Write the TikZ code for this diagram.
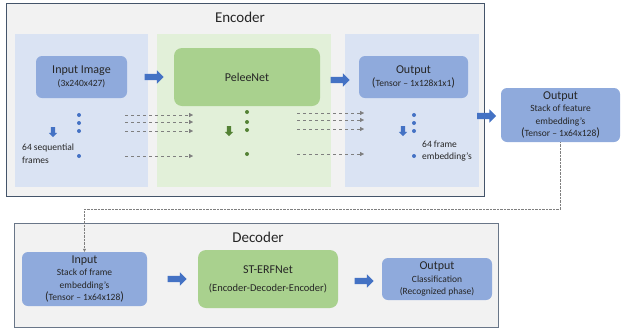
\documentclass[tikz,border=0pt]{standalone}
\usepackage{fontspec}
\setmainfont{Carlito}
\usetikzlibrary{shapes.arrows,arrows.meta}
\definecolor{framegray}{HTML}{F2F2F2}
\definecolor{frameline}{HTML}{44546A}
\definecolor{paneblue}{HTML}{DAE3F3}
\definecolor{panegreen}{HTML}{E2F0D9}
\definecolor{boxblue}{HTML}{8FAADC}
\definecolor{boxgreen}{HTML}{A9D18E}
\definecolor{arrowblue}{HTML}{4472C4}
\definecolor{arrowgreen}{HTML}{548235}
\definecolor{dashgray}{HTML}{7F7F7F}
\definecolor{textgray}{HTML}{262626}
\newcommand{\bigpar}[1]{{\fontsize{12}{12}\selectfont #1}}

\begin{document}
\begin{tikzpicture}[x=1pt,y=-1pt]
\tikzstyle{every node}+=[inner sep=0pt, text=textgray]
\tikzstyle{title}=[font=\fontsize{15}{18}\selectfont]
\tikzstyle{bluebox}=[fill=boxblue, rounded corners=6pt, align=center, font=\fontsize{9.5}{12.5}\selectfont]
\tikzstyle{greenbox}=[fill=boxgreen, rounded corners=8pt, align=center, font=\fontsize{12}{14}\selectfont]
\tikzstyle{fat}=[single arrow, fill=arrowblue, inner sep=3pt, minimum height=19pt, single arrow head extend=3.5pt]
\tikzstyle{down}=[single arrow, shape border rotate=270, inner sep=2pt, minimum height=10pt, single arrow head extend=2pt]
\tikzstyle{bdot}=[circle, fill=arrowblue, minimum size=4pt]
\tikzstyle{gdot}=[circle, fill=arrowgreen, minimum size=4pt]
\tikzstyle{flow}=[dashed, draw=dashgray, -{Triangle[length=4pt,width=4pt]}]
\tikzstyle{link}=[densely dotted, draw=dashgray, -{Triangle[length=3pt,width=3pt]}]
\tikzstyle{note}=[align=left, font=\fontsize{9.5}{12.5}\selectfont]
\useasboundingbox (0,0) rectangle (621,330);
% encoder frame
\filldraw [fill=framegray, draw=frameline, line width=0.8pt] (6,3) rectangle (484,196);
\fill [paneblue] (15,34) rectangle (148,187);
\fill [panegreen] (157,34) rectangle (331,187);
\fill [paneblue] (345,34) rectangle (479,187);
\node [title] (enct) at (240,17) {Encoder};
% encoder blocks
\node [bluebox, minimum width=91pt, minimum height=42pt] (img) at (81.5,77)
  {{\fontsize{12}{14}\selectfont Input Image}\\(3x240x427)};
\node [greenbox, minimum width=146pt, minimum height=58pt] (pelee) at (247,77) {PeleeNet};
\node [bluebox, minimum width=109pt, minimum height=42pt] (emb) at (413.5,77)
  {{\fontsize{12}{14}\selectfont Output}\\\bigpar{(}Tensor -- 1x128x1x1\bigpar{)}};
\node [fat] (a1) at (152.5,77) {};
\node [fat] (a2) at (338.5,80) {};
% frames
\foreach \y [count=\i] in {115,123,131,156}
  \node [bdot] (fd\i) at (79,\y) {};
\node [down, fill=arrowblue] (fdown) at (53,131) {};
\node [note, anchor=west] (ftxt) at (22,153.5) {64 sequential\\frames};
\foreach \y [count=\i] in {115,122,131,156} {
  \coordinate (la\i) at (125,\y);
  \coordinate (lb\i) at (193,\y);
  \draw [flow] (la\i) -- (lb\i);
}
\foreach \y [count=\i] in {112,122,130,154}
  \node [gdot] (gd\i) at (247,\y) {};
\node [down, fill=arrowgreen] (gdown) at (229,130) {};
\foreach \y [count=\i] in {113,120,129,154} {
  \coordinate (ra\i) at (297,\y);
  \coordinate (rb\i) at (364,\y);
  \draw [flow] (ra\i) -- (rb\i);
}
\foreach \y [count=\i] in {115,123,131,156}
  \node [bdot] (ed\i) at (414,\y) {};
\node [down, fill=arrowblue] (edown) at (403,130) {};
\node [note, anchor=west] (etxt) at (422,151) {64 frame\\embedding's};
% stacked output
\node [fat] (a3) at (485,116) {};
\node [bluebox, minimum width=119pt, minimum height=54pt] (stack) at (560.5,115)
  {{\fontsize{12}{14}\selectfont Output}\\Stack of feature\\embedding's\\\bigpar{(}Tensor -- 1x64x128\bigpar{)}};
% decoder frame
\filldraw [fill=framegray, draw=frameline!80, line width=0.8pt] (14,223) rectangle (498,327);
\node [title] (dect) at (258,237) {Decoder};
\node [bluebox, minimum width=125pt, minimum height=54pt] (inp) at (84.5,279)
  {{\fontsize{12}{14}\selectfont Input}\\Stack of frame\\embedding's\\\bigpar{(}Tensor -- 1x64x128\bigpar{)}};
\node [greenbox, minimum width=140pt, minimum height=58pt] (erf) at (268,279)
  {ST-ERFNet\\[4pt]{\fontsize{10.5}{13}\selectfont (Encoder-Decoder-Encoder)}};
\node [bluebox, minimum width=110pt, minimum height=42pt] (cls) at (437,279)
  {{\fontsize{12}{14}\selectfont Output}\\Classification\\(Recognized phase)};
\node [fat] (a4) at (175.5,279) {};
\node [fat] (a5) at (362.5,281) {};
% link between stages
\coordinate (turn) at (0,209);
\draw [link] (stack.south) -- (stack.south |- turn) -| (inp.north);
\end{tikzpicture}
\end{document}
